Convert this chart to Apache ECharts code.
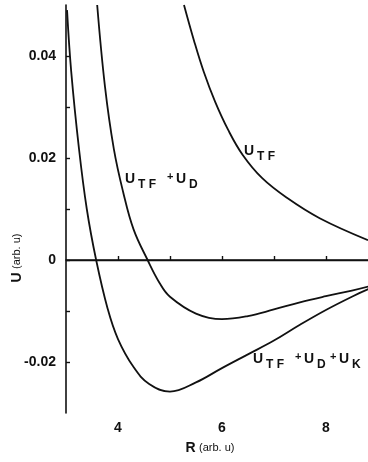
<!DOCTYPE html>
<html>
<head>
<meta charset="utf-8">
<script src="https://cdn.jsdelivr.net/npm/echarts@6/dist/echarts.min.js"></script>
<style>
html,body{margin:0;padding:0;background:#fff;}
#c{width:368px;height:462px;}
</style>
</head>
<body>
<div id="c"></div>
<script>
// Data (R in arb. u, U in arb. u)
const rTF = [5.27, 5.46, 5.65, 5.87, 6.12, 6.40, 6.77, 7.25, 7.88, 8.81];
const uTF = [0.0500, 0.0431, 0.0369, 0.0310, 0.0255, 0.0206, 0.0161, 0.0122, 0.0082, 0.0039];

const rTFD = [3.6, 3.75, 3.92, 4.1, 4.3, 4.57, 4.8, 5.0, 5.5, 6.0, 6.5, 7.0, 7.5, 8.0, 8.5, 8.82];
const uTFD = [0.050, 0.034, 0.0218, 0.0133, 0.006, 0.0, -0.0045, -0.0072, -0.0105, -0.0116, -0.0110, -0.0097, -0.0083, -0.0071, -0.0060, -0.0052];

const rTFDK = [3.02, 3.1, 3.25, 3.4, 3.58, 3.8, 4.0, 4.3, 4.6, 5.0, 5.5, 6.0, 6.5, 7.0, 7.5, 8.0, 8.5, 8.82];
const uTFDK = [0.049, 0.037, 0.0218, 0.010, 0.0, -0.0095, -0.0155, -0.021, -0.0243, -0.0258, -0.0240, -0.0212, -0.0185, -0.0158, -0.0127, -0.0098, -0.0072, -0.0057];

const xTicks = [4, 5, 6, 7, 8];
const xLabels = [4, 6, 8];
const yTicks = [-0.02, -0.01, 0, 0.01, 0.02, 0.03, 0.04];
const yLabels = [-0.02, 0, 0.02, 0.04];

const zip = (a, b) => a.map((v, i) => [v, b[i]]);

const chart = echarts.init(document.getElementById('c'), null, {renderer: 'canvas'});
const FONT = '"Liberation Sans", Arial, sans-serif';
const lineStyle = {color: '#111', width: 1.8};

function sublabel(x, y, parts) {
  // parts: [text, kind, advance]  kind: 'm' main, 's' subscript, 'p' plus
  const children = [];
  let cx = x;
  parts.forEach(p => {
    const size = p[1] === 'm' ? 14 : (p[1] === 's' ? 12 : 11);
    const dy = p[1] === 's' ? 7 : (p[1] === 'p' ? -1 : 0);
    children.push({
      type: 'text',
      x: cx, y: y + dy,
      style: {text: p[0], font: 'bold ' + size + 'px ' + FONT, fill: '#111', textVerticalAlign: 'top'}
    });
    cx += p[2];
  });
  return {type: 'group', children};
}

const option = {
  backgroundColor: '#fff',
  animation: false,
  grid: {left: 66, right: 0, top: 5, bottom: 49, containLabel: false},
  xAxis: {
    type: 'value', min: 3, max: 8.81,
    axisLine: {show: true, lineStyle: {color: '#111', width: 1.6}},
    axisTick: {show: true, inside: true, length: 4, customValues: xTicks, lineStyle: {color: '#111', width: 1.4}},
    axisLabel: {customValues: xLabels, margin: 8, color: '#111', fontFamily: FONT, fontWeight: 'bold', fontSize: 14},
    splitLine: {show: false}
  },
  yAxis: {
    type: 'value', min: -0.03, max: 0.05,
    axisLine: {show: true, lineStyle: {color: '#111', width: 1.6}},
    axisTick: {show: true, inside: true, length: 4, customValues: yTicks, lineStyle: {color: '#111', width: 1.4}},
    axisLabel: {customValues: yLabels, margin: 10, color: '#111', fontFamily: FONT, fontWeight: 'bold', fontSize: 14,
      formatter: v => (Math.abs(v) < 1e-9 ? '0' : v.toFixed(2))},
    splitLine: {show: false}
  },
  series: [
    {type: 'line', data: zip(rTF, uTF), smooth: 0.4, showSymbol: false, lineStyle, clip: true,
      markLine: {silent: true, symbol: 'none', label: {show: false}, lineStyle: {color: '#111', width: 1.3, type: 'solid'}, data: [{yAxis: 0}]}},
    {type: 'line', data: zip(rTFD, uTFD), smooth: 0.4, showSymbol: false, lineStyle, clip: true},
    {type: 'line', data: zip(rTFDK, uTFDK), smooth: 0.4, showSymbol: false, lineStyle, clip: true}
  ],
  graphic: [
    sublabel(244, 144, [['U', 'm', 13], ['T F', 's', 30]]),
    sublabel(125, 172, [['U', 'm', 13], ['T F', 's', 29], ['+', 'p', 9], ['U', 'm', 13], ['D', 's', 12]]),
    sublabel(253, 352, [['U', 'm', 13], ['T F', 's', 29], ['+', 'p', 9], ['U', 'm', 13], ['D', 's', 13], ['+', 'p', 9], ['U', 'm', 13], ['K', 's', 12]]),
    {type: 'text', x: 210, y: 448, style: {rich: {b: {font: 'bold 14px ' + FONT, fill: '#111'}, n: {font: '11px ' + FONT, fill: '#111'}}, text: '{b|R} {n|(arb. u)}', textAlign: 'center', textVerticalAlign: 'middle'}},
    {type: 'text', x: 17, y: 258, rotation: Math.PI / 2, style: {rich: {b: {font: 'bold 14px ' + FONT, fill: '#111'}, n: {font: '11px ' + FONT, fill: '#111'}}, text: '{b|U} {n|(arb. u)}', textAlign: 'center', textVerticalAlign: 'middle'}}
  ]
};
chart.setOption(option);
</script>
</body>
</html>
